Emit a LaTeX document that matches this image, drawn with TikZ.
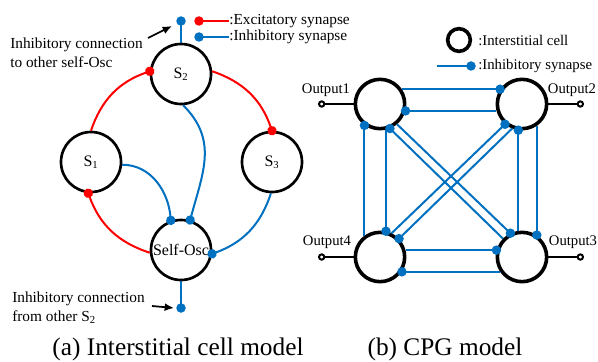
\documentclass[tikz,border=0pt]{standalone}
\usepackage{fontspec}
\setmainfont{Liberation Serif}
\usetikzlibrary{arrows.meta}
\definecolor{exred}{RGB}{255,0,0}
\definecolor{inblue}{RGB}{0,112,192}

\begin{document}
\begin{tikzpicture}[x=0.75pt, y=0.75pt,
		cell/.style={circle, draw, line width=2pt, minimum size=45pt, inner sep=0pt, font=\fontsize{12}{14}\selectfont},
		icell/.style={circle, draw, line width=2.7pt, minimum size=37pt, inner sep=0pt},
		txt/.style={inner sep=0pt, font=\fontsize{11.5}{14.2}\selectfont},
		legtxt/.style={inner sep=0pt, font=\fontsize{11.1}{13}\selectfont},
		outtxt/.style={inner sep=0pt, font=\fontsize{11}{13}\selectfont},
		captxt/.style={inner sep=0pt, anchor=base, font=\fontsize{19}{22}\selectfont},
		exc/.style={exred, line width=1.5pt},
		inh/.style={inblue, line width=1.5pt},
		syn/.style={-{Circle[length=7pt]}, shorten >=-3.5pt},
		outwire/.style={-{Circle[open, length=5.5pt]}, line width=1.5pt},
		note/.style={-{Latex[length=7pt, width=6pt]}, line width=1.3pt}]

	\useasboundingbox (0,0) rectangle (598,361);

	% Modelo de celda intersticial
	\node[cell] (s2) at (181,287) {S\textsubscript{2}};
	\node[cell] (s1) at (91,199) {S\textsubscript{1}};
	\node[cell] (s3) at (272,199) {S\textsubscript{3}};
	\node[cell] (osc) at (181,111) {Self-Osc};

	\draw[exc, syn] (s1.90) to[bend left=26] (s2.175);
	\draw[exc, syn] (s2.5) to[bend left=26] (s3.90);
	\draw[exc, syn] (osc.185) to[bend left=26] (s1.265);
	\draw[inh, syn] (s3.268) to[bend left=26] (osc.353);
	\draw[inh, syn] (s1.-5) to[out=0, in=95] (osc.109);
	\draw[inh, syn] (s2.-86) to[out=-45, in=75, looseness=1.1] (osc.73);

	\coordinate (up) at (181,340);
	\coordinate (dn) at (181,53);
	\draw[inh, syn] (s2.north) -- (up);
	\draw[inh, syn] (osc.south) -- (dn);

	% Notas
	\node[txt, align=left, anchor=west] (noteup) at (10,308) {Inhibitory connection\\to other self-Osc};
	\node[txt, align=left, anchor=west] (notedn) at (12,53) {Inhibitory connection\\from other S\textsubscript{2}};
	\coordinate (upa) at (148,323);
	\coordinate (upb) at (172,335);
	\coordinate (dna) at (152,55);
	\coordinate (dnb) at (174,53);
	\draw[note] (upa) -- (upb);
	\draw[note] (dna) -- (dnb);

	\node[txt, anchor=west] (exlbl) at (229,340) {:Excitatory synapse};
	\node[txt, anchor=west] (inlbl) at (229,324) {:Inhibitory synapse};
	\coordinate (exdot) at (199,340);
	\coordinate (indot) at (199,324);
	\draw[exc, syn] (exlbl.west) -- (exdot);
	\draw[inh, syn] (inlbl.west) -- (indot);

	% Modelo CPG
	\node[icell] (c1) at (380,257) {};
	\node[icell] (c2) at (522,257) {};
	\node[icell] (c3) at (522,104) {};
	\node[icell] (c4) at (380,104) {};

	\draw[inh, syn] (c1.34) -- (c2.146);
	\draw[inh, syn] (c2.195) -- (c1.-15);
	\draw[inh, syn] (c4.15) -- (c3.165);
	\draw[inh, syn] (c3.214) -- (c4.-34);
	\draw[inh, syn] (c4.126) -- (c1.234);
	\draw[inh, syn] (c1.-77) -- (c4.77);
	\draw[inh, syn] (c3.98) -- (c2.262);
	\draw[inh, syn] (c2.-56) -- (c3.56);
	\draw[inh, syn] (c1.-50) -- (c3.116);
	\draw[inh, syn] (c3.136) -- (c1.-68);
	\draw[inh, syn] (c4.64) -- (c2.230);
	\draw[inh, syn] (c2.248) -- (c4.44);

	\coordinate (o1) at (318,257);
	\coordinate (o2) at (584,257);
	\coordinate (o3) at (584,104);
	\coordinate (o4) at (318,104);
	\draw[outwire] (c1.west) -- (o1);
	\draw[outwire] (c2.east) -- (o2);
	\draw[outwire] (c3.east) -- (o3);
	\draw[outwire] (c4.west) -- (o4);
	\node[outtxt] (out1) at (326,271) {Output1};
	\node[outtxt] (out2) at (572,271) {Output2};
	\node[outtxt] (out3) at (573,119) {Output3};
	\node[outtxt] (out4) at (327,119) {Output4};

	% Leyenda
	\node[icell, minimum size=17pt] (legcell) at (459,321) {};
	\node[legtxt, anchor=west] (cellbl) at (478,321) {:Interstitial cell};
	\node[legtxt, anchor=west] (synlbl) at (478,295) {:Inhibitory synapse};
	\coordinate (legl) at (437,295);
	\coordinate (legd) at (471,295);
	\draw[inh, syn] (legl) -- (legd);

	% Titulos
	\node[captxt] (capa) at (178,6) {(a) Interstitial cell model};
	\node[captxt] (capb) at (445,6) {(b) CPG model};

\end{tikzpicture}
\end{document}
